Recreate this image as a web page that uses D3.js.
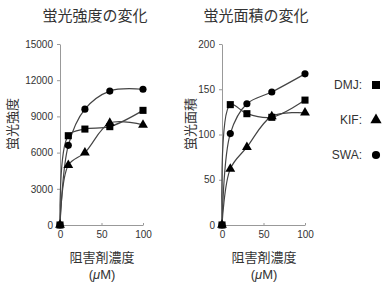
<!DOCTYPE html>
<html>
<head>
  <meta charset='utf-8'>
  <script src="https://cdn.jsdelivr.net/npm/d3@7"></script>
  <style>
    body { margin: 0; background: #fff; }
    text { font-family: "Liberation Sans", "Noto Sans CJK JP", sans-serif; fill: #333; }
    .jp { font-family: "Noto Sans CJK JP", sans-serif; }
    .axis path, .axis line { stroke: #999; }
    .axis text { font-size: 10px; fill: #333; }
  </style>
</head>
<body>
<script>
  const w = 387, h = 283;

  // concentrations (uM)
  const conc = [0, 10, 30, 60, 100];

  // fluorescence intensity
  const intensityDMJ = [0, 7400, 7950, 8150, 9500];
  const intensityKIF = [0, 4950, 6000, 8450, 8300];
  const intensitySWA = [0, 6600, 9600, 11100, 11250];

  // fluorescence area
  const areaDMJ = [0, 133, 123, 119, 138];
  const areaKIF = [0, 62, 86, 120, 124];
  const areaSWA = [0, 101, 134, 147, 167];

  const intensityTicks = [0, 3000, 6000, 9000, 12000, 15000];
  const areaTicks = [0, 50, 100, 150, 200];
  const xTicks = [0, 50, 100];

  const series = ["DMJ", "KIF", "SWA"];
  const symbols = { DMJ: d3.symbolSquare, KIF: d3.symbolTriangle, SWA: d3.symbolCircle };
  const symSize = { DMJ: 50, KIF: 42, SWA: 40 };

  const svg = d3.select("body").append("svg")
    .attr("width", w)
    .attr("height", h);

  function panel(opts) {
    const x = d3.scaleLinear().domain([0, 100]).range([opts.x0, opts.x0 + 83]);
    const y = d3.scaleLinear().domain([0, opts.yMax]).range([225, 44]);

    svg.append("g").attr("class", "axis")
      .attr("transform", "translate(0,225)")
      .call(d3.axisBottom(x).tickValues(xTicks).tickSizeInner(-2).tickSizeOuter(0).tickPadding(6));

    svg.append("g").attr("class", "axis")
      .attr("transform", `translate(${opts.x0},0)`)
      .call(d3.axisLeft(y).tickValues(opts.ticks).tickFormat(d3.format("d"))
        .tickSize(3).tickSizeOuter(0).tickPadding(4));

    const line = d3.line()
      .x((d, i) => x(conc[i]))
      .y(d => y(d))
      .curve(d3.curveCatmullRom);

    series.forEach(s => {
      svg.append("path")
        .attr("d", line(opts.data[s]))
        .attr("fill", "none")
        .attr("stroke", "#444")
        .attr("stroke-width", 1.2);
    });

    series.forEach(s => {
      svg.selectAll(null)
        .data(opts.data[s])
        .enter()
        .append("path")
        .attr("d", d3.symbol().type(symbols[s]).size(symSize[s]))
        .attr("transform", (d, i) => `translate(${x(conc[i])},${y(d)})`)
        .attr("fill", "#000");
    });

    svg.append("text").attr("class", "jp")
      .attr("x", opts.titleX).attr("y", 21)
      .attr("text-anchor", "middle")
      .style("font-size", "15px")
      .text(opts.title);

    svg.append("text").attr("class", "jp")
      .attr("transform", `translate(${opts.ylabX},124) rotate(-90)`)
      .attr("text-anchor", "middle")
      .attr("dy", "0.35em")
      .style("font-size", "13px")
      .text(opts.ylab);

    const cx = opts.x0 + 42;
    svg.append("text").attr("class", "jp")
      .attr("x", cx).attr("y", 262)
      .attr("text-anchor", "middle")
      .style("font-size", "13px")
      .text("阻害剤濃度");
    const unit = svg.append("text")
      .attr("x", cx).attr("y", 279)
      .attr("text-anchor", "middle")
      .style("font-size", "13px");
    unit.append("tspan").text("(");
    unit.append("tspan").style("font-style", "italic").text("μ");
    unit.append("tspan").text("M)");
  }

  panel({
    x0: 60, yMax: 15000, ticks: intensityTicks, title: "蛍光強度の変化", titleX: 95,
    ylab: "蛍光強度", ylabX: 12,
    data: { DMJ: intensityDMJ, KIF: intensityKIF, SWA: intensitySWA }
  });

  panel({
    x0: 222, yMax: 200, ticks: areaTicks, title: "蛍光面積の変化", titleX: 256,
    ylab: "蛍光面積", ylabX: 190,
    data: { DMJ: areaDMJ, KIF: areaKIF, SWA: areaSWA }
  });

  // legend
  const legendY = [85, 120, 155];
  series.forEach((s, i) => {
    svg.append("text")
      .attr("x", 362).attr("y", legendY[i])
      .attr("dy", "0.35em")
      .attr("text-anchor", "end")
      .style("font-size", "12px")
      .text(s + ":");
    svg.append("path")
      .attr("d", d3.symbol().type(symbols[s]).size(symSize[s] * 1.3))
      .attr("transform", `translate(376,${legendY[i]})`)
      .attr("fill", "#000");
  });
</script>
</body>
</html>
